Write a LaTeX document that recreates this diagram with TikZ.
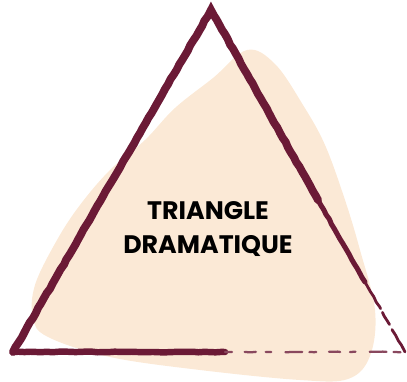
\documentclass[tikz,border=0pt]{standalone}
\usepackage{fontspec}
\setmainfont{Poppins}
\usetikzlibrary{decorations.pathmorphing}
\definecolor{wine}{HTML}{6B1A36}
\definecolor{cream}{HTML}{FBE9D6}
\begin{document}
\begin{tikzpicture}[x=0.025cm, y=-0.025cm,
    brush/.style={draw=wine, line cap=round, line join=miter, decorate,
      decoration={random steps, segment length=4pt, amplitude=0.3pt}},
    title/.style={align=center, font=\fontsize{18}{24}\selectfont\bfseries, text=black}]
	\useasboundingbox (0,0) rectangle (407,381);
	% 1. 背景色块
	\fill[cream] plot[smooth cycle, tension=0.6] coordinates {
		(247,50) (275,64) (303,105) (325,145) (345,200) (360,250) (375,310)
		(370,356) (348,379) (300,380) (200,370) (110,357) (48,337) (33,318)
		(35,285) (57,240) (80,205) (110,170) (145,140) (175,108) (213,78)};
	
	% 2. 三角形顶点
	\coordinate (apex) at (211,10);
	\coordinate (left) at (13,352);
	\coordinate (right) at (405,352);
	\coordinate (rmid) at (318,200);
	\coordinate (rlow) at (365,282);
	\coordinate (bmid) at (225,352);
	
	% 3. 笔刷边
	\draw[brush, line width=5.6pt] (left) -- (apex) -- (rmid);
	\draw[brush, line width=3.6pt] (rmid) -- (rlow);
	\draw[brush, line width=2pt, dash pattern=on 22pt off 3pt on 10pt off 4pt] (rlow) -- (right);
	\draw[brush, line width=4.6pt] (left) -- (bmid);
	\draw[brush, draw=wine!80, line width=1.6pt, dash pattern=on 5pt off 9pt on 8pt off 7pt on 4pt off 10pt on 12pt off 5pt] (bmid) -- (right);
	
	% 4. 标题
	\node[title] (label) at (208,229) {TRIANGLE\\DRAMATIQUE};
\end{tikzpicture}
\end{document}
